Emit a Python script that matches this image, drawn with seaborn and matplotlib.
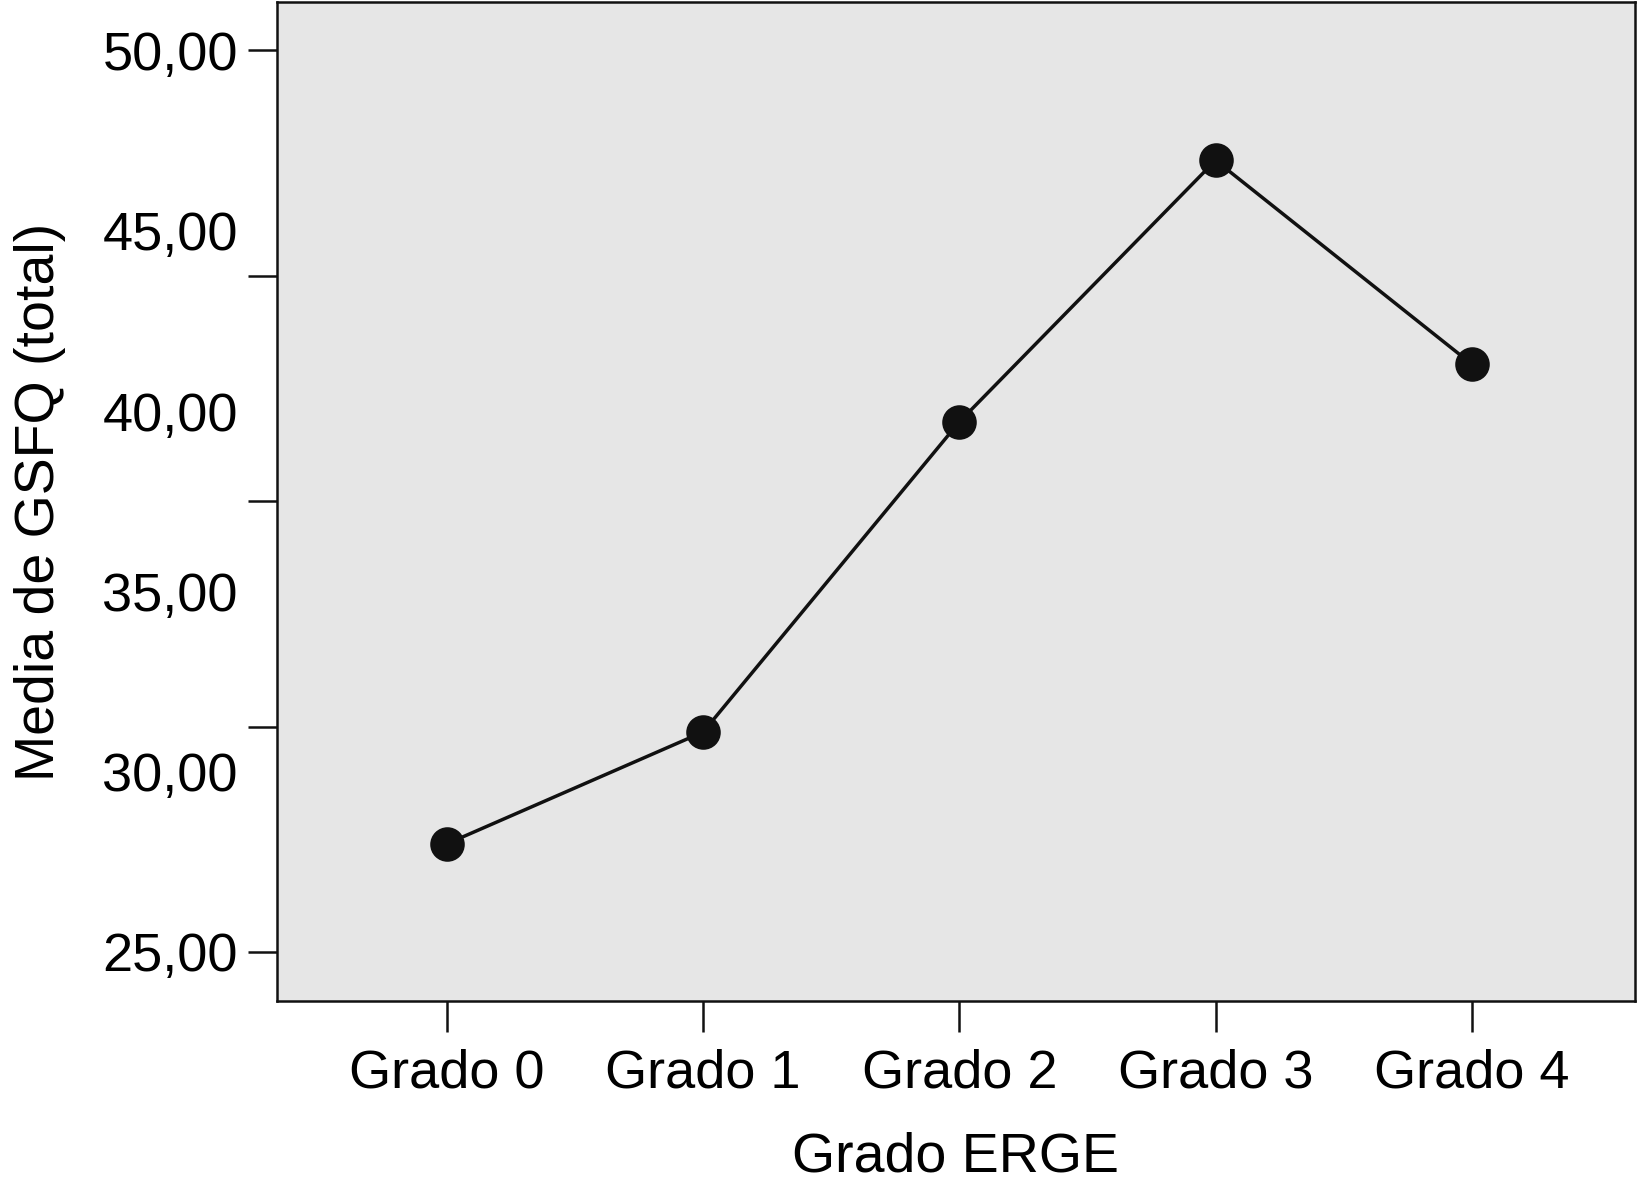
import numpy as np
import pandas as pd
import seaborn as sns
import matplotlib.pyplot as plt

# datos
grados = ['Grado 0', 'Grado 1', 'Grado 2', 'Grado 3', 'Grado 4']
medias = [28.0, 31.1, 39.7, 46.95, 41.3]
etiquetas_y = [25, 30, 35, 40, 45, 50]

df = pd.DataFrame({'Grado ERGE': grados, 'Media': medias})

sns.set_style("white")
plt.rcParams['font.family'] = ['Liberation Sans', 'DejaVu Sans']
plt.rcParams['text.color'] = 'black'
plt.rcParams['axes.labelcolor'] = 'black'
plt.rcParams['xtick.color'] = 'black'
plt.rcParams['ytick.color'] = 'black'

fig = plt.figure(figsize=(16.38, 11.91), dpi=100)
ax = fig.add_axes([0.169, 0.1595, 0.829, 0.8385])
ax.set_facecolor('#e6e6e6')

sns.pointplot(data=df, x='Grado ERGE', y='Media', color='#111111', errorbar=None,
              markersize=23, linewidth=2.5, ax=ax)

ax.set_xlim(-0.664, 4.636)
ax.set_ylim(23.64, 51.33)

# etiquetas cada 5, marcas cada 6,25 (como el original)
ax.yaxis.remove_overlapping_locs = False
ax.set_yticks(etiquetas_y)
ax.set_yticklabels([f'{v:.2f}'.replace('.', ',') for v in etiquetas_y])
ax.set_yticks(np.linspace(25, 50, 5), minor=True)
ax.tick_params(axis='y', which='major', length=0, pad=28, labelsize=39)
ax.tick_params(axis='y', which='minor', length=21, width=1.8, color='#111111', left=True)
ax.tick_params(axis='x', length=22, width=1.8, color='#111111', pad=12, labelsize=39, bottom=True)

for s in ax.spines.values():
    s.set_color('#111111')
    s.set_linewidth(1.8)

ax.set_xlabel('Grado ERGE', fontsize=40, labelpad=24)
ax.set_ylabel('Media de GSFQ (total)', fontsize=40, labelpad=26)

plt.savefig('out.png', dpi=100)
